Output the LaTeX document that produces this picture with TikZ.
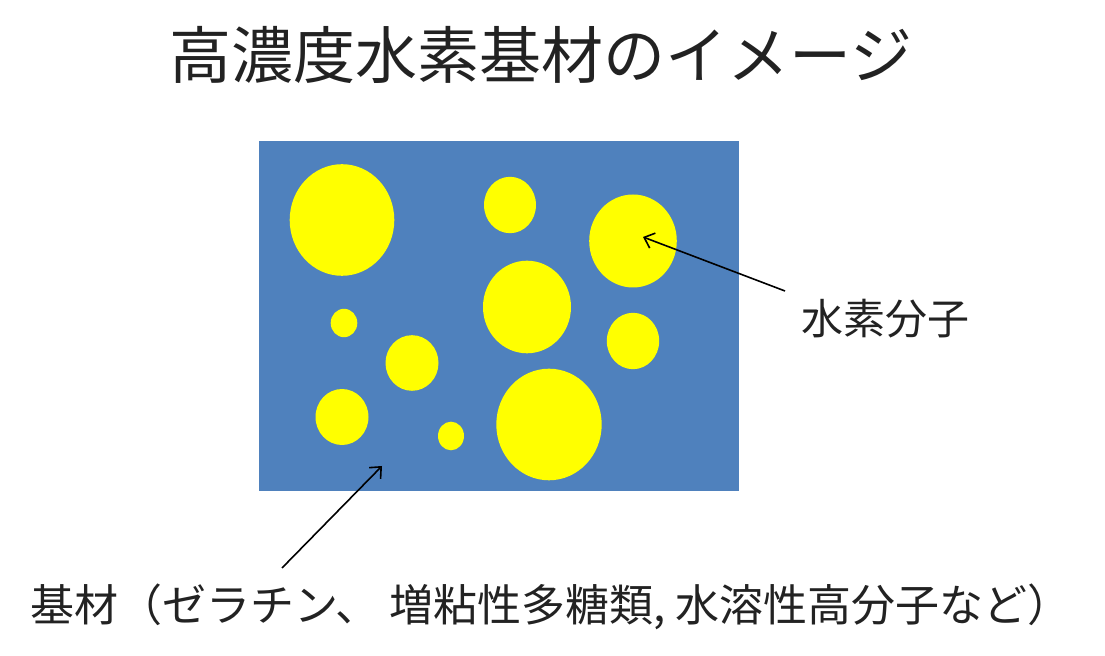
\documentclass[tikz,border=0pt]{standalone}
\usepackage{fontspec}
\usetikzlibrary{arrows.meta}
\setmainfont{Noto Sans CJK JP}
\definecolor{gelblue}{HTML}{4F81BD}
\definecolor{htwo}{HTML}{FFFF00}
\definecolor{ink}{HTML}{222222}

\begin{document}
\begin{tikzpicture}[x=0.5pt, y=-0.5pt]
    \useasboundingbox (0,0) rectangle (1105,656);

    % Title
    \node[text=ink, inner sep=0pt, font=\fontsize{31}{31}\selectfont] (title) at (541,55) {高濃度水素基材のイメージ};

    % Base material
    \fill[gelblue] (259,141) rectangle (739,491);

    % Hydrogen molecules
    \foreach \cx/\cy/\rx/\ry in {342/220/52.3/55.8, 510/205/26/28.2, 633/241/43.8/46.5,
        527/307/44/46.3, 344/323/13.3/14.2, 412/363/26.5/27.8, 633/341/26.2/28.2,
        342/417/26.5/28, 451/436/13/14.3, 549/424.5/52.7/55.8}
        \fill[htwo] (\cx,\cy) ellipse [x radius=\rx, y radius=\ry];

    % Labels and arrows
    \node[text=ink, inner sep=0pt, font=\fontsize{21}{21}\selectfont] (h2) at (885,319) {水素分子};
    \coordinate (h2tail) at (785,291);
    \coordinate (h2tip) at (643,237);
    \draw[-{Straight Barb[length=4.5pt, width=8pt]}, line width=0.8pt] (h2tail) -- (h2tip);

    \node[text=ink, inner sep=0pt, font=\fontsize{22}{22}\selectfont] (base) at (551,607) {基材（ゼラチン、 増粘性多糖類, 水溶性高分子など）};
    \coordinate (basetail) at (282,568);
    \coordinate (basetip) at (382,466);
    \draw[-{Straight Barb[length=4.5pt, width=8pt]}, line width=0.8pt] (basetail) -- (basetip);

\end{tikzpicture}
\end{document}
